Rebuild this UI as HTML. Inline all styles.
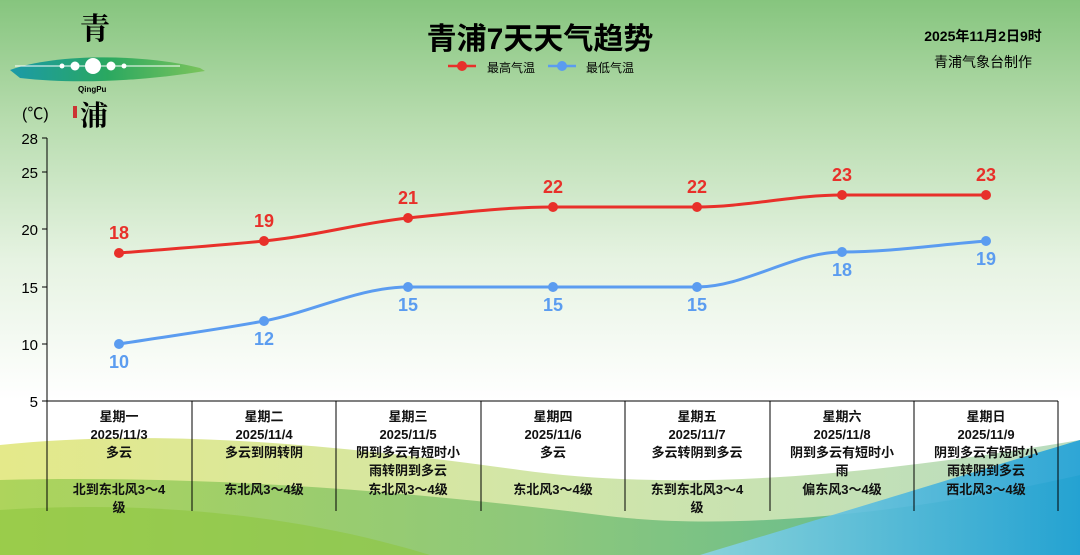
<!DOCTYPE html>
<html><head><meta charset="utf-8"><style>
body{margin:0;width:1080px;height:555px;overflow:hidden;font-family:"Liberation Sans","Noto Sans CJK SC",sans-serif}
.wrap{position:relative;width:1080px;height:555px;background:linear-gradient(#86c57e 0px,#b7dcae 120px,#e6f3e2 260px,#ffffff 400px)}
.t{position:absolute;white-space:nowrap}
.col{position:absolute;top:408px;width:144px;text-align:center;font-size:13px;font-weight:bold;color:#111;line-height:18px}
.col .w{position:absolute;top:36px;left:0;width:144px}
.col .f{position:absolute;top:73px;left:0;width:144px}
</style></head><body><div class="wrap">
<svg width="1080" height="555" style="position:absolute;left:0;top:0">
<defs>
<linearGradient id="yg" x1="0" x2="1"><stop offset="0" stop-color="#e4e98a"/><stop offset="0.5" stop-color="#d2e6a8"/><stop offset="1" stop-color="#b8dcc0"/></linearGradient>
<linearGradient id="gg" x1="0" x2="1"><stop offset="0" stop-color="#a0cf50"/><stop offset="0.5" stop-color="#7cc070"/><stop offset="1" stop-color="#3aae90"/></linearGradient>
<linearGradient id="bg" x1="0" x2="1"><stop offset="0" stop-color="#8ad4e4"/><stop offset="1" stop-color="#1fa0d8"/></linearGradient>
<linearGradient id="lg" x1="0" x2="1"><stop offset="0" stop-color="#1b9aa8"/><stop offset="0.5" stop-color="#2aa860"/><stop offset="1" stop-color="#7cc45c"/></linearGradient>
</defs>
<path d="M0 445 C150 430 300 440 520 470 C700 495 900 470 1080 440 L1080 555 L0 555Z" fill="url(#yg)"/>
<path d="M0 480 C200 475 400 490 600 515 C750 535 950 505 1080 475 L1080 555 L0 555Z" fill="url(#gg)" opacity="0.8"/>
<path d="M700 555 C850 510 980 470 1080 440 L1080 555Z" fill="url(#bg)" opacity="0.9"/>
<path d="M0 510 C150 500 300 515 430 555 L0 555Z" fill="#8dc63f" opacity="0.6"/>
<path d="M10 70 C60 52 150 55 200 68 L205 71 C150 80 80 85 20 78Z" fill="url(#lg)"/>
<circle cx="93" cy="66" r="8" fill="#fff"/><circle cx="75" cy="66" r="4.5" fill="#fff"/><circle cx="111" cy="66" r="4.5" fill="#fff"/><circle cx="62" cy="66" r="2.5" fill="#fff"/><circle cx="124" cy="66" r="2.5" fill="#fff"/>
<line x1="15" y1="66" x2="180" y2="66" stroke="#fff" stroke-width="1"/>
<rect x="73" y="106" width="4" height="12" fill="#c33"/>
<line x1="47" y1="138" x2="47" y2="511" stroke="#000"/>
<g stroke="#000"><line x1="42" y1="138" x2="47" y2="138"/><line x1="42" y1="172" x2="47" y2="172"/><line x1="42" y1="229" x2="47" y2="229"/><line x1="42" y1="287" x2="47" y2="287"/><line x1="42" y1="344" x2="47" y2="344"/><line x1="42" y1="401" x2="47" y2="401"/>
<line x1="47" y1="401" x2="1058" y2="401"/>
<line x1="192" y1="401" x2="192" y2="511"/><line x1="336" y1="401" x2="336" y2="511"/><line x1="481" y1="401" x2="481" y2="511"/><line x1="625" y1="401" x2="625" y2="511"/><line x1="770" y1="401" x2="770" y2="511"/><line x1="914" y1="401" x2="914" y2="511"/><line x1="1058" y1="401" x2="1058" y2="511"/></g>
<g font-size="15" fill="#000" text-anchor="end" font-family="Liberation Sans,sans-serif"><text x="38" y="144">28</text><text x="38" y="178">25</text><text x="38" y="235">20</text><text x="38" y="293">15</text><text x="38" y="350">10</text><text x="38" y="407">5</text></g>
<path d="M119,253 C167,249 211,246.3 264,241 C317,235.7 360,223 408,218 C456,213 505,207 553,207 C601,207 649,207 697,207 C745,207 794,195 842,195 C890,195 938,195 986,195" fill="none" stroke="#e8302a" stroke-width="3"/>
<path d="M119,344 C167,336.3 216,330 264,321 C312,312 360,287 408,287 C456,287 505,287 553,287 C601,287 649,287 697,287 C745,287 794,252 842,252 C890,252 938,244.7 986,241" fill="none" stroke="#5b9cf0" stroke-width="3"/>
<g fill="#e8302a"><circle cx="119" cy="253" r="5"/><circle cx="264" cy="241" r="5"/><circle cx="408" cy="218" r="5"/><circle cx="553" cy="207" r="5"/><circle cx="697" cy="207" r="5"/><circle cx="842" cy="195" r="5"/><circle cx="986" cy="195" r="5"/></g>
<g fill="#5b9cf0"><circle cx="119" cy="344" r="5"/><circle cx="264" cy="321" r="5"/><circle cx="408" cy="287" r="5"/><circle cx="553" cy="287" r="5"/><circle cx="697" cy="287" r="5"/><circle cx="842" cy="252" r="5"/><circle cx="986" cy="241" r="5"/></g>
<g font-size="18" font-weight="bold" fill="#e8302a" text-anchor="middle" font-family="Liberation Sans,sans-serif"><text x="119" y="239">18</text><text x="264" y="227">19</text><text x="408" y="204">21</text><text x="553" y="193">22</text><text x="697" y="193">22</text><text x="842" y="181">23</text><text x="986" y="181">23</text></g>
<g font-size="18" font-weight="bold" fill="#5b9cf0" text-anchor="middle" font-family="Liberation Sans,sans-serif"><text x="119" y="368">10</text><text x="264" y="345">12</text><text x="408" y="311">15</text><text x="553" y="311">15</text><text x="697" y="311">15</text><text x="842" y="276">18</text><text x="986" y="265">19</text></g>
<line x1="448" y1="66" x2="476" y2="66" stroke="#e8302a" stroke-width="2.5"/><circle cx="462" cy="66" r="5" fill="#e8302a"/>
<line x1="548" y1="66" x2="576" y2="66" stroke="#5b9cf0" stroke-width="2.5"/><circle cx="562" cy="66" r="5" fill="#5b9cf0"/>
</svg>
<div class="t" style="left:80px;top:4px;font-size:30px;font-family:'Noto Serif CJK SC',serif;font-weight:bold">青</div>
<div class="t" style="left:78px;top:85px;font-size:8px;font-weight:bold">QingPu</div>
<div class="t" style="left:80px;top:94px;font-size:28px;font-family:'Noto Serif CJK SC',serif;font-weight:bold">浦</div>
<div class="t" style="left:22px;top:100px;font-size:16px">(℃)</div>
<div class="t" style="left:340px;top:14px;width:400px;text-align:center;font-size:30px;font-weight:bold">青浦7天天气趋势</div>
<div class="t" style="left:487px;top:59px;font-size:12px">最高气温</div>
<div class="t" style="left:586px;top:59px;font-size:12px">最低气温</div>
<div class="t" style="left:900px;top:26px;width:166px;text-align:center;font-size:14px;font-weight:bold">2025年11月2日9时</div>
<div class="t" style="left:900px;top:52px;width:166px;text-align:center;font-size:14px">青浦气象台制作</div>
<div class="col" style="left:47px">星期一<br>2025/11/3<div class="w">多云</div><div class="f">北到东北风3～4<br>级</div></div>
<div class="col" style="left:192px">星期二<br>2025/11/4<div class="w">多云到阴转阴</div><div class="f">东北风3～4级</div></div>
<div class="col" style="left:336px">星期三<br>2025/11/5<div class="w">阴到多云有短时小<br>雨转阴到多云</div><div class="f">东北风3～4级</div></div>
<div class="col" style="left:481px">星期四<br>2025/11/6<div class="w">多云</div><div class="f">东北风3～4级</div></div>
<div class="col" style="left:625px">星期五<br>2025/11/7<div class="w">多云转阴到多云</div><div class="f">东到东北风3～4<br>级</div></div>
<div class="col" style="left:770px">星期六<br>2025/11/8<div class="w">阴到多云有短时小<br>雨</div><div class="f">偏东风3～4级</div></div>
<div class="col" style="left:914px">星期日<br>2025/11/9<div class="w">阴到多云有短时小<br>雨转阴到多云</div><div class="f">西北风3～4级</div></div>
</div></body></html>
